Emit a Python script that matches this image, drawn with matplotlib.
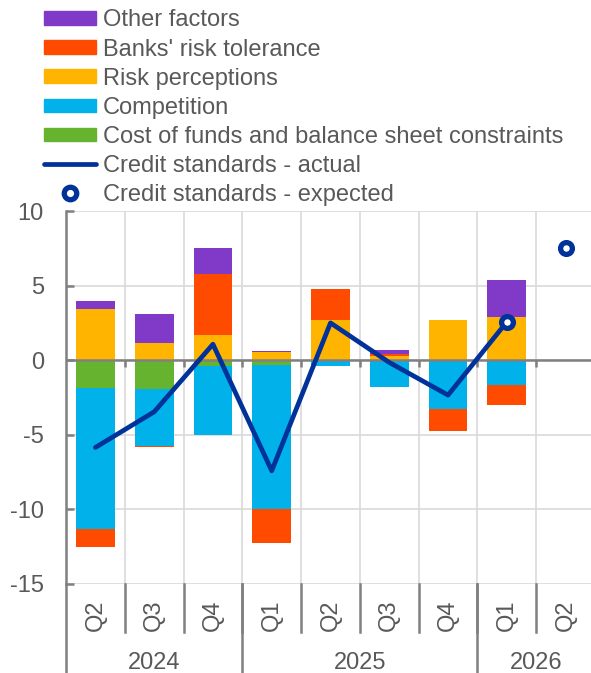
import numpy as np
import matplotlib
matplotlib.use('Agg')
import matplotlib.pyplot as plt
from matplotlib.patches import Patch
from matplotlib.lines import Line2D

plt.rcParams['font.family'] = ['Liberation Sans', 'DejaVu Sans']
plt.rcParams['axes.unicode_minus'] = False

quarters = ['Q2', 'Q3', 'Q4', 'Q1', 'Q2', 'Q3', 'Q4', 'Q1', 'Q2']
years = ['2024', '2025', '2026']
year_span = [(0, 2), (3, 6), (7, 8)]  # first and last quarter index of each year

# contributions, in stacking order (last quarter has no bars)
cost_funds = [-1.83, -1.9, -0.38, -0.29, 0.0, 0.0, 0.0, 0.0, np.nan]
competition = [-9.5, -3.84, -4.64, -9.69, -0.38, -1.81, -3.3, -1.63, np.nan]
risk_perc = [3.46, 1.12, 1.72, 0.56, 2.7, 0.29, 2.7, 2.88, np.nan]
risk_tol = [-1.2, -0.1, 4.04, -2.3, 2.06, 0.11, -1.43, -1.34, np.nan]
other = [0.49, 2.0, 1.76, 0.09, 0.0, 0.31, 0.0, 2.52, np.nan]

actual = [-5.85, -3.46, 1.07, -7.41, 2.5, -0.15, -2.34, 2.57, np.nan]
expected = [np.nan, np.nan, np.nan, np.nan, np.nan, np.nan, np.nan, 2.57, 7.52]

series = [
    ('Cost of funds and balance sheet constraints', cost_funds, '#65B32E'),
    ('Competition', competition, '#00B1EA'),
    ('Risk perceptions', risk_perc, '#FFB400'),
    ("Banks' risk tolerance", risk_tol, '#FF4B00'),
    ('Other factors', other, '#8139C7'),
]

txt = '#595959'
grid = '#D9D9D9'
axc = '#808080'
navy = '#003299'
fs = 17

fig = plt.figure(figsize=(5.91, 6.73), dpi=100)
ax = fig.add_axes([66/591, 1-584/673, 529/591, 373/673])

x = np.arange(len(quarters))
pos = np.zeros(len(x))
neg = np.zeros(len(x))
for name, vals, col in series:
    v = np.array(vals, dtype=float)
    v0 = np.nan_to_num(v)
    bottom = np.where(v0 >= 0, pos, neg)
    ax.bar(x, v, 0.66, bottom=bottom, color=col, zorder=2)
    pos += np.where(v0 >= 0, v0, 0)
    neg += np.where(v0 < 0, v0, 0)

ax.plot(x, actual, color=navy, lw=3.4, zorder=4, solid_capstyle='round')
ax.plot(x, expected, ls='none', marker='o', ms=8.5, mew=3.8,
        mfc='white', mec=navy, zorder=5)

ax.set_xlim(-0.5, len(x)-0.5)
ax.set_ylim(-15, 10)
ax.set_yticks([-15, -10, -5, 0, 5, 10])
ax.yaxis.grid(True, color=grid, lw=1.2, zorder=0)
for b in x[:-1] + 0.5:
    ax.axvline(b, color=grid, lw=1.2, zorder=0)
ax.axhline(0, color=axc, lw=1.8, zorder=3)
ax.vlines(x[:-1] + 0.5, -0.45, 0, color=axc, lw=1.8, zorder=3)

for s in ['top', 'right', 'bottom']:
    ax.spines[s].set_visible(False)
ax.spines['left'].set_color(axc)
ax.spines['left'].set_linewidth(1.8)
ax.tick_params(axis='y', direction='in', length=6, width=1.8, color=axc,
               labelsize=fs, labelcolor=txt, pad=16)
ax.set_xticks([])

# two-level category axis
tr = ax.get_xaxis_transform()
for i, q in enumerate(quarters):
    ax.text(i, -0.083, q, transform=tr, rotation=90, ha='center', va='center',
            fontsize=fs, color=txt)
for b in x[:-1] + 0.5:
    ax.plot([b, b], [0, -0.128], transform=tr, color=axc, lw=1.8, clip_on=False)
for y, (a, b) in zip(years, year_span):
    ax.text((a+b)/2, -0.211, y, transform=tr, ha='center', va='center',
            fontsize=fs, color=txt)
for a, b in year_span:
    ax.plot([a-0.5, a-0.5], [0, -0.3], transform=tr, color=axc, lw=1.8, clip_on=False)

handles = [Patch(color=c, label=n) for n, v, c in series[::-1]]
handles.append(Line2D([], [], color=navy, lw=3.4, label='Credit standards - actual',
                      solid_capstyle='round'))
handles.append(Line2D([], [], ls='none', marker='o', ms=9, mew=3.8, mfc='white',
                      mec=navy, label='Credit standards - expected'))
fig.legend(handles=handles, loc='upper left', bbox_to_anchor=(35/591, 1.0),
           frameon=False, fontsize=fs, labelcolor=txt, handlelength=2.2,
           handleheight=0.5, handletextpad=0.27, labelspacing=0.3,
           borderaxespad=0)

fig.savefig('out.png', dpi=100)
